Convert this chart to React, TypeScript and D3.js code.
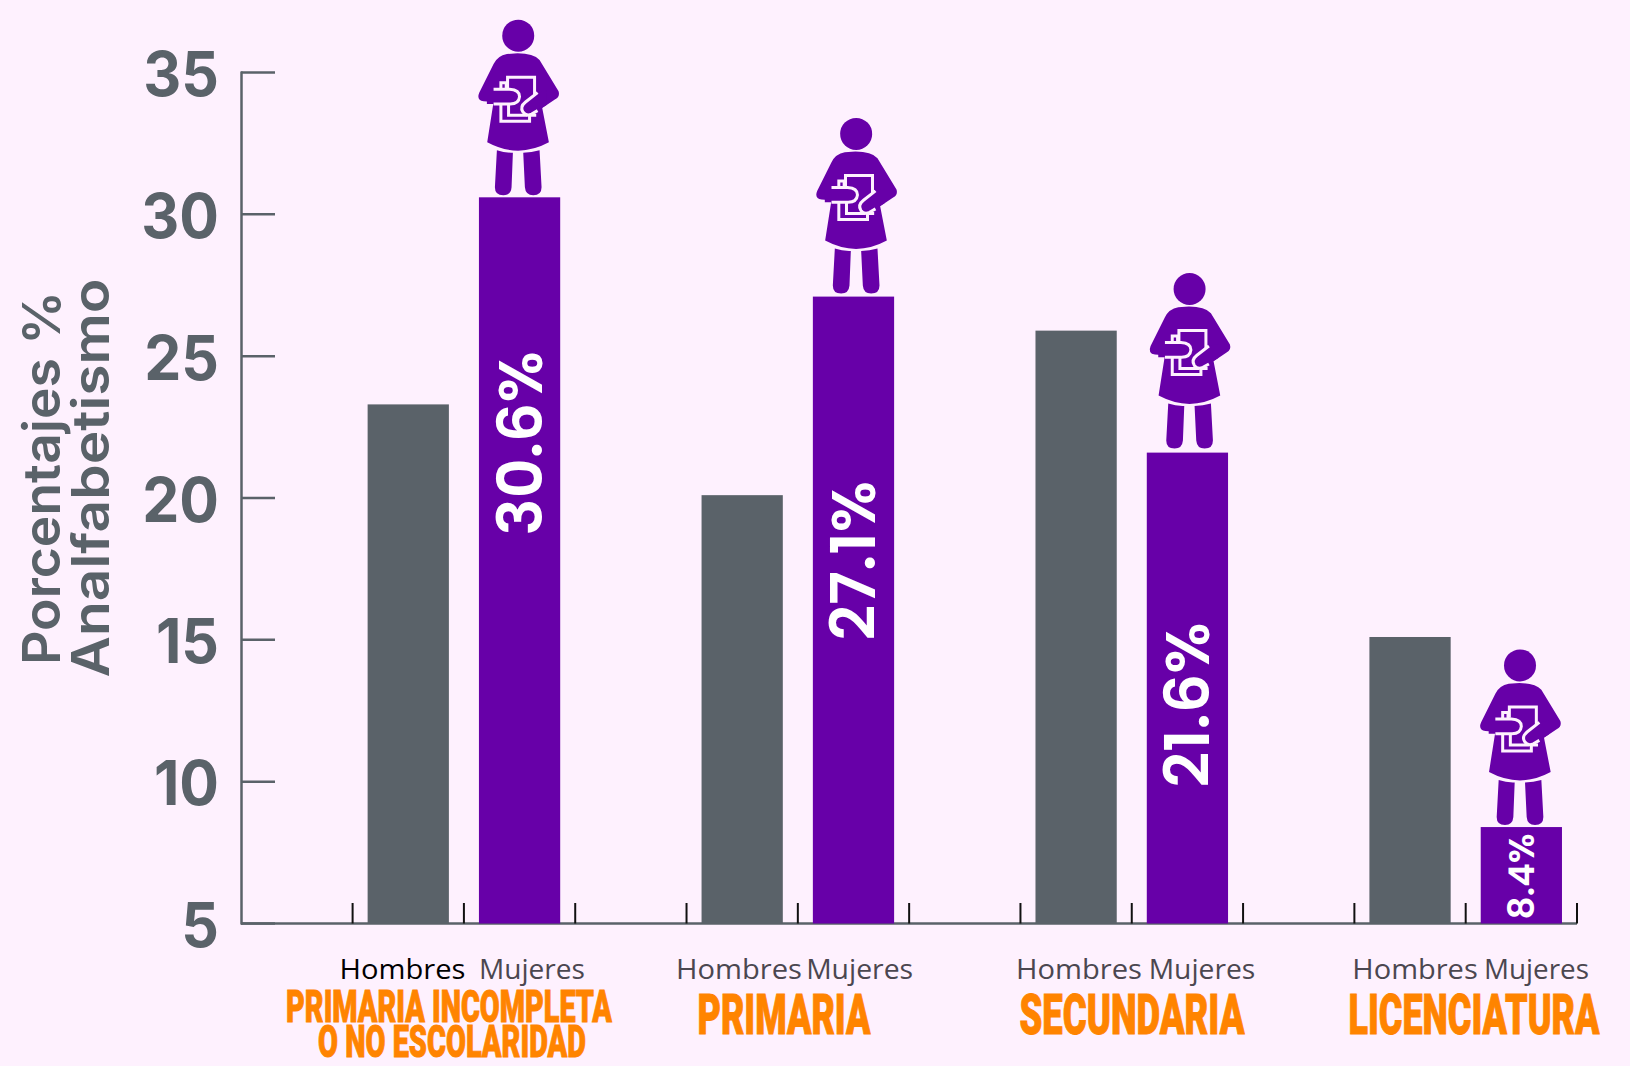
import React from 'react';
import * as d3 from 'd3';

const categories = ['PRIMARIA INCOMPLETA|O NO ESCOLARIDAD', 'PRIMARIA', 'SECUNDARIA', 'LICENCIATURA'];
const hombres = [23.3, 20.1, 25.9, 15.1];
const mujeres = [30.6, 27.1, 21.6, 8.4];
const yTicks = [5, 10, 15, 20, 25, 30, 35];
const sexLabels = ['Hombres', 'Mujeres'];

const BG = '#FEF1FE';
const GRAY = '#5A6269';
const PURPLE = '#6700A8';
const ORANGE = '#FF8400';

// 3 slots per group, the last group has no trailing gap slot
const slots = categories.flatMap((_, i) => (i < 3 ? [`h${i}`, `m${i}`, `g${i}`] : [`h${i}`, `m${i}`]));
const x = d3.scaleBand<string>().domain(slots).range([352.6, 1577]).paddingInner(0.27).paddingOuter(0.135);
const y = d3.scaleLinear().domain([5, 35]).range([923.5, 72.5]);
const step = x.step();
const tickXs = d3.range(0, slots.length + 1).map((i) => 352.6 + i * step);

// none of the installed fonts is this narrow or this wide, so squeeze to a measured width
const ctx = document.createElement('canvas').getContext('2d')!;
function FitText({ cx, y: by, width, font, fill, stroke, children }: any) {
  ctx.font = font;
  const sx = width / ctx.measureText(children).width;
  return (
    <text
      transform={`translate(${cx},${by}) scale(${sx},1)`}
      textAnchor="middle"
      style={{ font }}
      fill={fill}
      stroke={stroke}
      strokeWidth={stroke ? 1 : 0}
    >
      {children}
    </text>
  );
}

// drawn in units of a 3x crop, origin at the top centre of the bar
function Woman({ cx, top }: { cx: number; top: number }) {
  return (
    <g transform={`translate(${cx},${top}) scale(${1 / 3}) translate(-238,-590)`}>
      <circle cx={234} cy={105} r={48} fill={PURPLE} />
      <path
        fill={PURPLE}
        d="M232 158 Q280 158 298 178 L355 272 Q360 288 345 296 L306 322 L326 425 Q234 475 141 425 L160 304 L130 302 Q108 298 117 276 L160 190 Q172 165 200 160 Z"
      />
      <path fill={PURPLE} d="M170 449 Q194 457 218 456 L214 560 Q212 584 189 584 Q164 584 164 560 Z" />
      <path fill={PURPLE} d="M249 456 Q274 456 298 449 L304 560 Q304 584 279 584 Q256 584 254 560 Z" />
      <g fill="none" stroke={BG} strokeWidth={9}>
        <path d="M202 262 V230 H283 V284" />
        <path d="M205 310 V344 H262" />
        <path d="M182 312 V362 H268 V344 H288" />
        <path d="M182 264 V246 H198 V264" />
      </g>
      <path fill={PURPLE} d="M160 268 H210 Q238 270 238 290 Q236 308 210 310 H140 V268 Z" />
      <path fill="none" stroke={BG} strokeWidth={9} d="M160 266 H208 Q238 268 238 288 Q236 310 210 310 H160" />
      <path fill={PURPLE} d="M292 276 L256 304 Q238 318 248 334 Q258 348 274 340 L320 312 V270 Z" />
      <path fill="none" stroke={BG} strokeWidth={9} d="M292 276 L256 304 Q238 318 248 334 Q258 348 274 340 L292 330" />
    </g>
  );
}

// the pictogram is not quite centred on the bars of the two middle groups
const iconDx = [0, 4, 3.5, 0];
const iconDy = [0, -1, -2, 0];
const pctBottom = [388, 283, 136, 4];
const catLines = [[[326, 449], [268, 452]], [[173, 784]], [[225, 1132]], [[251, 1474]]];
const sexBoxes = [[[126, 402.5], [106, 532]], [[126, 739], [107, 859.6]], [[126, 1079], [106.6, 1202]], [[125.5, 1415], [105, 1536.5]]];

export default function App() {
  return (
    <svg width={1630} height={1066} style={{ position: 'absolute', left: 0, top: 0, background: BG }}>
      {/* Y axis */}
      <line x1={241.5} x2={241.5} y1={y(35) - 1} y2={y(5) + 1} stroke={GRAY} strokeWidth={2.5} />
      {yTicks.map((t) => (
        <g key={t}>
          <line x1={241} x2={275} y1={y(t)} y2={y(t)} stroke={GRAY} strokeWidth={2.5} />
          <text
            transform={`translate(219,${y(t) + 23.5}) scale(0.95,1)`}
            textAnchor="end"
            fontFamily="Inter"
            fontWeight={700}
            fontSize={62}
            fill={GRAY}
          >
            {t}
          </text>
        </g>
      ))}
      <line x1={241} x2={1577} y1={y(5)} y2={y(5)} stroke={GRAY} strokeWidth={2.5} />
      {tickXs.map((t) => (
        <line key={t} x1={t} x2={t} y1={903} y2={y(5)} stroke="#111" strokeWidth={2} />
      ))}
      <g transform="translate(60,478) rotate(-90)">
        <FitText cx={0} y={0} width={374} font="600 52px Inter" fill={GRAY}>Porcentajes %</FitText>
        <FitText cx={0} y={49} width={399} font="600 52px Inter" fill={GRAY}>Analfabetismo</FitText>
      </g>

      {/* Bars */}
      {categories.map((c, i) => {
        const hx = x(`h${i}`)!;
        const mx = x(`m${i}`)!;
        const bw = x.bandwidth();
        const mc = mx + bw / 2;
        const big = mujeres[i] > 10;
        return (
          <g key={c}>
            <rect x={hx} y={y(hombres[i])} width={bw} height={y(5) - y(hombres[i])} fill={GRAY} />
            <rect x={mx} y={y(mujeres[i])} width={bw} height={y(5) - y(mujeres[i])} fill={PURPLE} />
            <Woman cx={mc + iconDx[i]} top={y(mujeres[i]) + iconDy[i]} />
            <text
              transform={`translate(${mc + (big ? 22 : 13)},${y(5) - pctBottom[i]}) rotate(-90)`}
              fontFamily="Poppins, Inter"
              fontWeight={600}
              fontSize={big ? 62 : 36}
              fill="#fff"
            >
              {mujeres[i].toFixed(1)}%
            </text>
          </g>
        );
      })}

      {/* Labels */}
      {categories.map((c, i) => {
        const lines = c.split('|');
        return (
          <g key={c}>
            {lines.map((l, j) => (
              <FitText
                key={l}
                cx={catLines[i][j][1]}
                y={lines.length > 1 ? 1021.7 + j * 35 : 1034}
                width={catLines[i][j][0]}
                font={`900 ${lines.length > 1 ? 45 : 56}px Roboto`}
                fill={ORANGE}
                stroke={ORANGE}
              >
                {l}
              </FitText>
            ))}
          </g>
        );
      })}
      {categories.map((c, i) =>
        sexLabels.map((s, j) => (
          <FitText
            key={c + s}
            cx={sexBoxes[i][j][1]}
            y={979}
            width={sexBoxes[i][j][0]}
            font="400 27px 'Open Sans'"
            fill={i === 0 && j === 0 ? '#000' : '#4B4750'}
          >
            {s}
          </FitText>
        )),
      )}
    </svg>
  );
}
